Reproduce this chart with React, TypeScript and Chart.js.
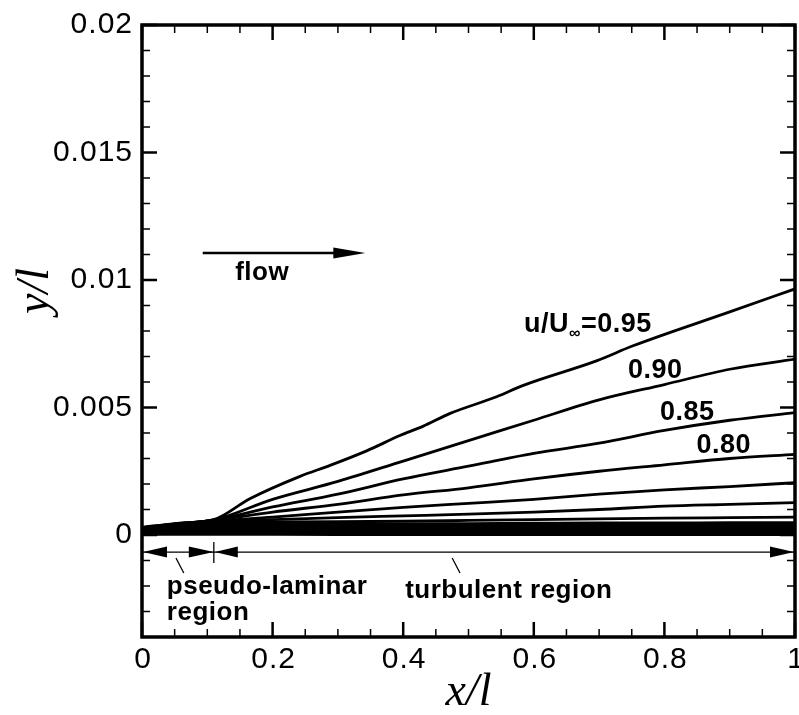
import React, { useEffect, useRef } from "react";
import { Chart, registerables } from "chart.js";

Chart.register(...registerables);

// ---- data ----
const xTopCurve = [0, 0.05, 0.11, 0.165, 0.242, 0.288, 0.344, 0.395, 0.43, 0.472, 0.544, 0.583, 0.697, 0.752, 0.9, 1.0];
const u95 = [0.0003, 0.00045, 0.0006, 0.00142, 0.0023, 0.00273, 0.0033, 0.0039, 0.00426, 0.00477, 0.00543, 0.00586, 0.00684, 0.00742, 0.00875, 0.00965];

const xGrid = [0, 0.05, 0.11, 0.2, 0.3, 0.4, 0.5, 0.6, 0.7, 0.8, 0.9, 1.0];
const u90 = [0.00029, 0.00044, 0.00059, 0.0014, 0.0021, 0.0029, 0.0037, 0.0045, 0.0053, 0.0059, 0.0065, 0.0069];
const u85 = [0.00028, 0.00043, 0.00058, 0.0011, 0.0016, 0.0022, 0.0027, 0.0032, 0.0036, 0.0041, 0.0045, 0.0048];
const u80 = [0.00027, 0.00042, 0.00057, 0.0009, 0.0012, 0.00157, 0.00185, 0.0022, 0.0025, 0.00275, 0.003, 0.00316];
const u75 = [0.00026, 0.00041, 0.00055, 0.0007, 0.0009, 0.00108, 0.00124, 0.0014, 0.0016, 0.00177, 0.0019, 0.00205];
const u70 = [0.00025, 0.0004, 0.00053, 0.0006, 0.00068, 0.00075, 0.00082, 0.0009, 0.001, 0.00113, 0.0012, 0.00127];
const u65 = [0.00024, 0.00038, 0.0005, 0.00051, 0.00052, 0.00054, 0.00057, 0.0006, 0.00063, 0.00066, 0.00068, 0.0007];
const u60 = [0.00022, 0.00036, 0.00047, 0.00045, 0.00044, 0.00044, 0.00045, 0.00046, 0.00047, 0.00047, 0.00048, 0.00048];
const u55 = [0.0002, 0.00033, 0.00043, 0.0004, 0.00039, 0.00039, 0.0004, 0.0004, 0.00041, 0.00041, 0.00041, 0.00042];

const xWall = [0, 0.05, 0.11, 0.3, 1.0];
const u50 = [0.00018, 0.0003, 0.00039, 0.00034, 0.00035];
const u45 = [0.00016, 0.00027, 0.00035, 0.0003, 0.0003];
const u40 = [0.00014, 0.00024, 0.0003, 0.00026, 0.00026];
const u35 = [0.00012, 0.00021, 0.00026, 0.00022, 0.00022];
const u30 = [0.0001, 0.00018, 0.00022, 0.00018, 0.00018];
const u25 = [0.00008, 0.00015, 0.00018, 0.00015, 0.00015];
const u20 = [0.00006, 0.00012, 0.00014, 0.00011, 0.00011];
const u15 = [0.00005, 0.00009, 0.0001, 0.00008, 0.00008];
const u10 = [0.00003, 0.00006, 0.00007, 0.00005, 0.00005];
const u05 = [0.00002, 0.00003, 0.00003, 0.00002, 0.00002];

const xTicks = [0, 0.2, 0.4, 0.6, 0.8, 1];
const xTickLabels = ["0", "0.2", "0.4", "0.6", "0.8", "1"];
const yTicks = [0, 0.005, 0.01, 0.015, 0.02];
const yTickLabels = ["0", "0.005", "0.01", "0.015", "0.02"];

const contourLabels = ["0.90", "0.85", "0.80"];
const contourLabelX = [0.786, 0.835, 0.891];
const contourLabelY = [0.00643, 0.00482, 0.00349];

const X_MIN = 0, X_MAX = 1, Y_MIN = -0.004, Y_MAX = 0.02;
const REGION_SPLIT = 0.11;

function pts(xs: number[], ys: number[]) {
  return xs.map((x, i) => ({ x, y: ys[i] }));
}

const SANS = '"Liberation Sans", Arial, Helvetica, sans-serif';
const SERIF = '"Liberation Serif", "Times New Roman", serif';

function arrowHead(ctx: CanvasRenderingContext2D, tipX: number, tipY: number, dir: number, len: number, half: number) {
  ctx.beginPath();
  ctx.moveTo(tipX, tipY);
  ctx.lineTo(tipX - dir * len, tipY - half);
  ctx.lineTo(tipX - dir * len, tipY + half);
  ctx.closePath();
  ctx.fill();
}

const decor = {
  id: "decor",
  afterDraw(chart: any) {
    const ctx: any = chart.ctx;
    const xs = chart.scales.x;
    const ys = chart.scales.y;
    const { left, right, top, bottom } = chart.chartArea;
    const px = (v: number) => xs.getPixelForValue(v);
    const py = (v: number) => ys.getPixelForValue(v);
    ctx.save();
    ctx.fillStyle = "#000";
    ctx.strokeStyle = "#000";

    // minor ticks
    ctx.lineWidth = 1.5;
    for (let i = 0; i <= 20; i++) {
      const v = i * 0.05;
      if (i % 4 === 0) continue;
      const x = px(v);
      ctx.beginPath();
      ctx.moveTo(x, bottom); ctx.lineTo(x, bottom - 8);
      ctx.moveTo(x, top); ctx.lineTo(x, top + 8);
      ctx.stroke();
    }
    for (let i = -4; i <= 20; i++) {
      if (i % 5 === 0) continue;
      const y = py(i * 0.001);
      ctx.beginPath();
      ctx.moveTo(left, y); ctx.lineTo(left + 8, y);
      ctx.moveTo(right, y); ctx.lineTo(right - 8, y);
      ctx.stroke();
    }
    // major ticks
    ctx.lineWidth = 2.5;
    xTicks.forEach((v) => {
      const x = px(v);
      ctx.beginPath();
      ctx.moveTo(x, bottom); ctx.lineTo(x, bottom - 15);
      ctx.moveTo(x, top); ctx.lineTo(x, top + 15);
      ctx.stroke();
    });
    yTicks.forEach((v) => {
      const y = py(v);
      ctx.beginPath();
      ctx.moveTo(left, y); ctx.lineTo(left + 15, y);
      ctx.moveTo(right, y); ctx.lineTo(right - 15, y);
      ctx.stroke();
    });
    // frame
    ctx.lineWidth = 3.5;
    ctx.strokeRect(left, top, right - left, bottom - top);

    // tick labels
    ctx.letterSpacing = "1px";
    ctx.font = `30px ${SANS}`;
    ctx.textBaseline = "middle";
    ctx.textAlign = "center";
    xTicks.forEach((v, i) => ctx.fillText(xTickLabels[i], px(v) + 1, bottom + 23));
    ctx.textAlign = "right";
    yTicks.forEach((v, i) => ctx.fillText(yTickLabels[i], 133, py(v)));
    ctx.letterSpacing = "0px";

    // axis titles
    ctx.font = `italic 46px ${SERIF}`;
    ctx.textAlign = "center";
    ctx.fillText("x/l", (left + right) / 2, 693);
    ctx.save();
    ctx.translate(36, 291);
    ctx.rotate(-Math.PI / 2);
    ctx.fillText("y/l", 0, 0);
    ctx.restore();

    // flow arrow
    ctx.lineWidth = 2.5;
    const fy = py(0.01106);
    ctx.beginPath();
    ctx.moveTo(px(0.093), fy); ctx.lineTo(px(0.3), fy); ctx.stroke();
    arrowHead(ctx, px(0.342), fy, 1, 32, 5.5);
    ctx.letterSpacing = "0.5px";
    ctx.font = `bold 26px ${SANS}`;
    ctx.textAlign = "center";
    ctx.fillText("flow", px(0.184), py(0.0103));

    // region arrows
    const ay = py(-0.00067);
    ctx.lineWidth = 1.3;
    ctx.beginPath();
    ctx.moveTo(px(0), ay); ctx.lineTo(px(1), ay);
    ctx.moveTo(px(REGION_SPLIT), py(-0.00027)); ctx.lineTo(px(REGION_SPLIT), py(-0.0011));
    ctx.moveTo(px(0.052), py(-0.0009)); ctx.lineTo(px(0.064), py(-0.00149));
    ctx.moveTo(px(0.475), py(-0.0009)); ctx.lineTo(px(0.487), py(-0.00149));
    ctx.stroke();
    arrowHead(ctx, px(0) + 1, ay, -1, 24, 5.5);
    arrowHead(ctx, px(REGION_SPLIT), ay, 1, 25, 5.5);
    arrowHead(ctx, px(REGION_SPLIT) + 1, ay, -1, 23, 5.5);
    arrowHead(ctx, px(1) - 1, ay, 1, 24, 5.5);

    ctx.font = `bold 26px ${SANS}`;
    ctx.textAlign = "left";
    ctx.fillText("pseudo-laminar", px(0.038), py(-0.00204));
    ctx.fillText("region", px(0.038), py(-0.00306));
    ctx.fillText("turbulent region", px(0.403), py(-0.0022));

    // contour labels
    ctx.font = `bold 27px ${SANS}`;
    ctx.textAlign = "center";
    contourLabels.forEach((t, i) => ctx.fillText(t, px(contourLabelX[i]), py(contourLabelY[i])));
    // u/U∞=0.95
    ctx.textAlign = "left";
    ctx.textBaseline = "alphabetic";
    let cx = px(0.585);
    const by = py(0.00796);
    ctx.font = `bold 27px ${SANS}`;
    ctx.fillText("u/U", cx, by);
    cx += ctx.measureText("u/U").width;
    ctx.font = `bold 16px ${SANS}`;
    ctx.fillText("\u221E", cx, by + 6);
    cx += ctx.measureText("\u221E").width;
    ctx.font = `bold 27px ${SANS}`;
    ctx.fillText("=0.95", cx, by);
    ctx.letterSpacing = "0px";

    ctx.restore();
  },
};

export default function App() {
  const ref = useRef<HTMLCanvasElement>(null);
  useEffect(() => {
    document.body.style.margin = "0";
    const series: { x: number[]; y: number[] }[] = [
      { x: xTopCurve, y: u95 },
      { x: xGrid, y: u90 },
      { x: xGrid, y: u85 },
      { x: xGrid, y: u80 },
      { x: xGrid, y: u75 },
      { x: xGrid, y: u70 },
      { x: xGrid, y: u65 },
      { x: xGrid, y: u60 },
      { x: xGrid, y: u55 },
      { x: xWall, y: u50 },
      { x: xWall, y: u45 },
      { x: xWall, y: u40 },
      { x: xWall, y: u35 },
      { x: xWall, y: u30 },
      { x: xWall, y: u25 },
      { x: xWall, y: u20 },
      { x: xWall, y: u15 },
      { x: xWall, y: u10 },
      { x: xWall, y: u05 },
    ];
    const chart = new Chart(ref.current!, {
      type: "line",
      data: {
        datasets: series.map((s) => ({
          data: pts(s.x, s.y),
          borderColor: "#000",
          borderWidth: 2.8,
          pointRadius: 0,
          fill: false,
          tension: 0.3,
          cubicInterpolationMode: "monotone" as const,
        })),
      },
      options: {
        responsive: false,
        animation: false,
        devicePixelRatio: 1,
        layout: { padding: { left: 142, top: 25, right: 4, bottom: 78 } },
        plugins: { legend: { display: false }, tooltip: { enabled: false }, title: { display: false } },
        scales: {
          x: { type: "linear", min: X_MIN, max: X_MAX, display: false },
          y: { type: "linear", min: Y_MIN, max: Y_MAX, display: false },
        },
      },
      plugins: [decor],
    });
    return () => chart.destroy();
  }, []);
  return <canvas ref={ref} width={799} height={715} style={{ display: "block" }} />;
}
